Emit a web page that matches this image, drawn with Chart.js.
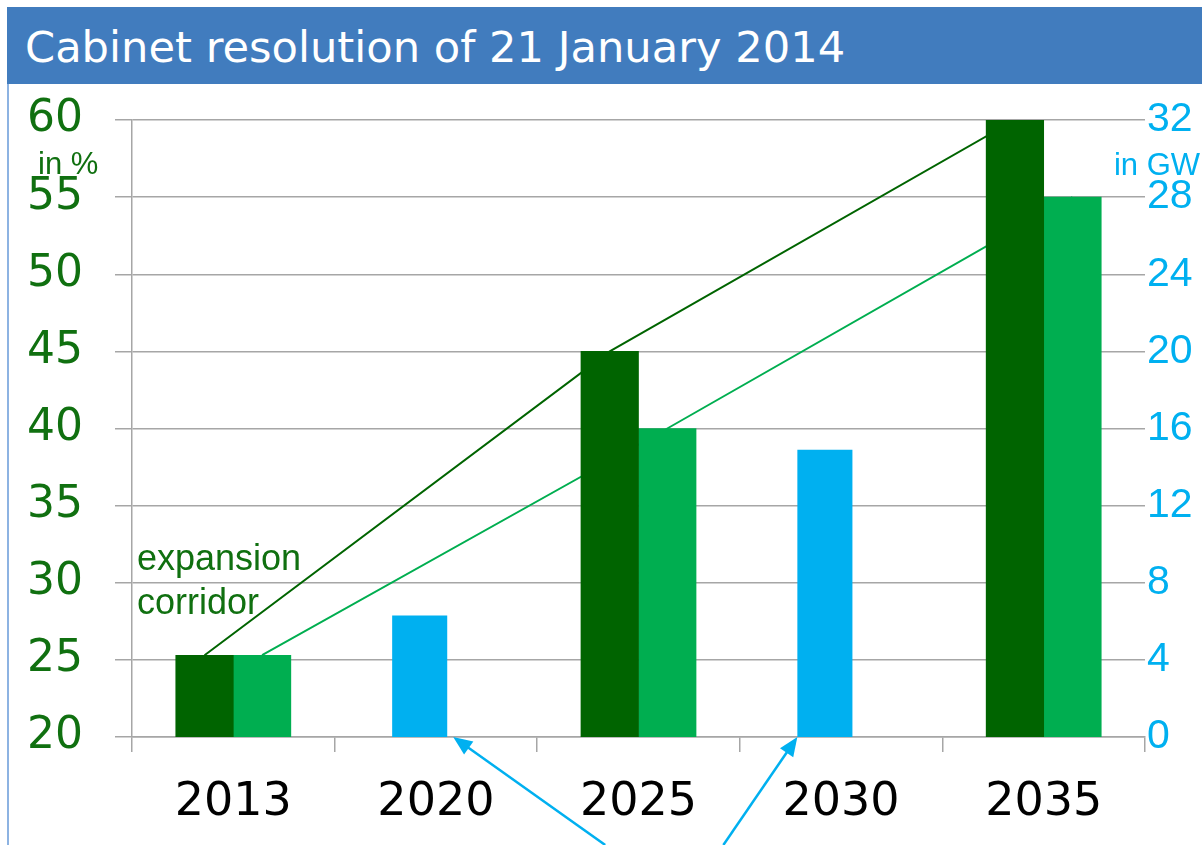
<!DOCTYPE html>
<html>
<head>
<meta charset="utf-8">
<script src="https://cdn.jsdelivr.net/npm/chart.js@4.4.1/dist/chart.umd.min.js"></script>
<style>
  body { margin: 0; background: #fff; width: 1202px; height: 845px; overflow: hidden; position: relative; }
  #title {
    position: absolute; left: 7px; top: 7px; width: 1195px; height: 74px; padding-top: 3px;
    background: #417CBE; color: #fff; font-family: "DejaVu Sans", Verdana, sans-serif;
    font-size: 43.2px; line-height: 74px; text-indent: 18px; white-space: nowrap;
  }
  #frame { position: absolute; left: 7px; top: 84px; width: 2px; height: 761px; background: #8DB3E2; }
  #chart { position: absolute; left: 0; top: 84px; }
</style>
</head>
<body>
<div id="title">Cabinet resolution of 21 January 2014</div>
<div id="frame"></div>
<canvas id="chart" width="1202" height="761"></canvas>
<script>
// categories and values
const years      = ['2013', '2020', '2025', '2030', '2035'];
const shareUpper = [25.3, null, 45, null, 60];     // dark green, in %
const shareLower = [25.3, null, 40, null, 55];     // light green, in %
const offshoreGW = [null, 6.3, null, 14.9, null];  // blue, in GW
const pctRange   = [20, 60, 5];
const gwRange    = [0, 32, 4];

const GREEN_DARK = '#006400';
const GREEN_LIGHT = '#00AE50';
const CYAN = '#00B0F0';
const TEXT_GREEN = '#107010';
const GRID = '#A6A6A6';

// offsets from the category centre, in categories
const PAIR_SHIFT = 0.142;     // green pair sits side by side
const OFFSHORE_SHIFT = -0.08; // blue bars sit slightly left

// bars and corridor lines share one hidden linear axis so they line up
const toPoints = (vals, shift) => vals
  .map((v, i) => v == null ? null : { x: i + shift, y: v })
  .filter(Boolean);

const annotations = {
  id: 'annotations',
  afterDraw(chart) {
    const ctx = chart.ctx;
    const a = chart.chartArea;
    ctx.save();
    ctx.textBaseline = 'alphabetic';
    ctx.font = '31px "Liberation Sans", Arial, sans-serif';
    ctx.fillStyle = TEXT_GREEN;
    ctx.textAlign = 'left';
    ctx.fillText('in %', 38, a.top + 54);
    ctx.fillStyle = CYAN;
    ctx.textAlign = 'right';
    ctx.fillText('in GW', chart.width - 2, a.top + 55);

    ctx.font = '36px "Liberation Sans", Arial, sans-serif';
    ctx.fillStyle = TEXT_GREEN;
    ctx.textAlign = 'left';
    ctx.fillText('expansion', a.left + 5, a.top + 450);
    ctx.fillText('corridor', a.left + 5, a.top + 494);

    // arrows to the offshore bars
    const bars = chart.getDatasetMeta(4).data;
    const b1 = bars[0], b2 = bars[1];
    const arrow = (tx, ty, hx, hy) => {
      const ang = Math.atan2(hy - ty, hx - tx);
      const len = 19, wid = 8;
      ctx.strokeStyle = CYAN;
      ctx.fillStyle = CYAN;
      ctx.lineWidth = 2.5;
      ctx.beginPath();
      ctx.moveTo(tx, ty);
      ctx.lineTo(hx - Math.cos(ang) * len * 0.8, hy - Math.sin(ang) * len * 0.8);
      ctx.stroke();
      ctx.beginPath();
      ctx.moveTo(hx, hy);
      ctx.lineTo(hx - Math.cos(ang) * len - Math.sin(ang) * wid, hy - Math.sin(ang) * len + Math.cos(ang) * wid);
      ctx.lineTo(hx - Math.cos(ang) * len + Math.sin(ang) * wid, hy - Math.sin(ang) * len - Math.cos(ang) * wid);
      ctx.closePath();
      ctx.fill();
    };
    const h1x = b1.x + b1.width / 2 + 6, h2x = b2.x - b2.width / 2;
    arrow(h1x + 152, chart.height, h1x, b1.base);
    arrow(h2x - 74, chart.height, h2x, b2.base);
    ctx.restore();
  }
};

const barOpts = { type: 'bar', xAxisID: 'xl', grouped: false, categoryPercentage: 1, order: 1 };
const lineOpts = { type: 'line', xAxisID: 'xl', yAxisID: 'y', borderWidth: 2, pointRadius: 0, fill: false, order: 2 };
const noPad = s => { s.paddingTop = 0; s.paddingBottom = 0; s.paddingLeft = 0; s.paddingRight = 0; };

new Chart(document.getElementById('chart'), {
  type: 'bar',
  data: {
    datasets: [
      { ...barOpts, data: toPoints(shareUpper, -PAIR_SHIFT), yAxisID: 'y', backgroundColor: GREEN_DARK, barPercentage: 1 },
      { ...barOpts, data: toPoints(shareLower, PAIR_SHIFT), yAxisID: 'y', backgroundColor: GREEN_LIGHT, barPercentage: 1 },
      { ...lineOpts, data: toPoints(shareUpper, -PAIR_SHIFT), borderColor: GREEN_DARK },
      { ...lineOpts, data: toPoints(shareLower, PAIR_SHIFT), borderColor: GREEN_LIGHT },
      { ...barOpts, data: toPoints(offshoreGW, OFFSHORE_SHIFT), yAxisID: 'y1', backgroundColor: CYAN, barPercentage: 0.957 }
    ]
  },
  options: {
    responsive: false,
    animation: false,
    layout: { padding: { top: 36, left: 0, right: 0, bottom: 0 } },
    plugins: { legend: { display: false }, tooltip: { enabled: false } },
    scales: {
      x: {
        type: 'category', labels: years, offset: true,
        grid: { offset: true, drawOnChartArea: false, drawTicks: true, tickLength: 15, color: GRID, lineWidth: 1.5 },
        border: { display: true, color: GRID, width: 1.5 },
        ticks: { color: '#000', padding: 23, font: { family: '"DejaVu Sans", Verdana, sans-serif', size: 46 } },
        afterFit: s => { noPad(s); s.height = 108; }
      },
      xl: { type: 'linear', min: -0.5, max: 4.5, offset: false, display: false },
      y: {
        position: 'left', min: pctRange[0], max: pctRange[1],
        grid: { color: GRID, lineWidth: 1.5, tickLength: 17 },
        border: { display: true, color: GRID, width: 1.5 },
        ticks: { stepSize: pctRange[2], color: TEXT_GREEN, padding: 32,
          font: { family: '"DejaVu Sans", Verdana, sans-serif', size: 44 } },
        afterFit: s => { noPad(s); s.width = 132; }
      },
      y1: {
        position: 'right', min: gwRange[0], max: gwRange[1],
        grid: { display: false, drawTicks: false },
        border: { display: false },
        ticks: { stepSize: gwRange[2], color: CYAN, padding: 2,
          font: { family: '"Liberation Sans", Arial, sans-serif', size: 41 } },
        afterFit: s => { noPad(s); s.width = 57; }
      }
    }
  },
  plugins: [annotations]
});
</script>
</body>
</html>
